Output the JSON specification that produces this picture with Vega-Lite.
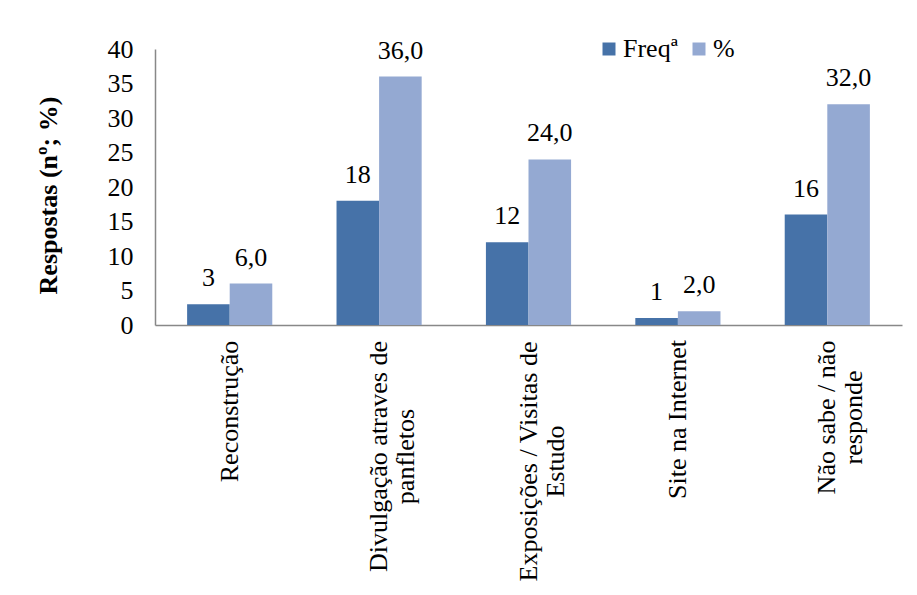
{
  "$schema": "https://vega.github.io/schema/vega-lite/v6.json",
  "width": 747,
  "height": 276,
  "autosize": {"type": "none"},
  "padding": {"left": 155, "top": 49, "right": 15, "bottom": 270},
  "background": "white",
  "config": {"view": {"stroke": null}, "font": "Liberation Serif, Times New Roman, serif"},
  "data": {
    "values": [
      {"cat": "Reconstrução", "series": "Freqª", "value": 3, "label": "3"},
      {"cat": "Reconstrução", "series": "%", "value": 6, "label": "6,0"},
      {"cat": "Divulgação atraves de|panfletos", "series": "Freqª", "value": 18, "label": "18"},
      {"cat": "Divulgação atraves de|panfletos", "series": "%", "value": 36, "label": "36,0"},
      {"cat": "Exposições / Visitas de|Estudo", "series": "Freqª", "value": 12, "label": "12"},
      {"cat": "Exposições / Visitas de|Estudo", "series": "%", "value": 24, "label": "24,0"},
      {"cat": "Site na Internet", "series": "Freqª", "value": 1, "label": "1"},
      {"cat": "Site na Internet", "series": "%", "value": 2, "label": "2,0"},
      {"cat": "Não sabe / não|responde", "series": "Freqª", "value": 16, "label": "16"},
      {"cat": "Não sabe / não|responde", "series": "%", "value": 32, "label": "32,0"}
    ]
  },
  "encoding": {
    "x": {
      "field": "cat",
      "type": "nominal",
      "sort": null,
      "scale": {"paddingInner": 0.43, "paddingOuter": 0.215},
      "axis": {
        "title": null,
        "labelAngle": -90,
        "labelAlign": "center",
        "labelBaseline": "middle",
        "labelFont": "Liberation Serif, Times New Roman, serif",
        "labelFontSize": 26,
        "labelColor": "black",
        "labelPadding": {
          "condition": [
            {"test": "datum.value === 'Reconstrução'", "value": 86},
            {"test": "datum.value === 'Divulgação atraves de|panfletos'", "value": 131},
            {"test": "datum.value === 'Exposições / Visitas de|Estudo'", "value": 136},
            {"test": "datum.value === 'Site na Internet'", "value": 94}
          ],
          "value": 92
        },
        "labelLimit": 0,
        "labelLineHeight": 27,
        "labelExpr": "split(datum.label, '|')",
        "ticks": false,
        "tickSize": 0,
        "domainColor": "#888888",
        "domainWidth": 1.5
      }
    },
    "xOffset": {
      "field": "series",
      "type": "nominal",
      "sort": ["Freqª", "%"],
      "scale": {"domain": ["Freqª", "%"], "paddingInner": 0, "paddingOuter": 0}
    },
    "y": {
      "field": "value",
      "type": "quantitative",
      "scale": {"domain": [0, 40]},
      "axis": {
        "title": "Respostas (nº; %)",
        "titleFont": "Liberation Serif, Times New Roman, serif",
        "titleFontSize": 26,
        "titleFontWeight": "bold",
        "titleColor": "black",
        "titlePadding": 46,
        "titleY": 146,
        "values": [0, 5, 10, 15, 20, 25, 30, 35, 40],
        "grid": false,
        "ticks": false,
        "tickSize": 0,
        "labelPadding": 22,
        "labelFont": "Liberation Serif, Times New Roman, serif",
        "labelFontSize": 26,
        "labelColor": "black",
        "domainColor": "#888888",
        "domainWidth": 1.5
      }
    }
  },
  "layer": [
    {
      "mark": {"type": "bar"},
      "encoding": {
        "color": {
          "field": "series",
          "type": "nominal",
          "scale": {"domain": ["Freqª", "%"], "range": ["#4672A8", "#94A9D2"]},
          "legend": {
            "title": null,
            "orient": "none",
            "legendX": 441,
            "legendY": -13,
            "direction": "horizontal",
            "symbolType": "square",
            "symbolSize": 169,
            "symbolStrokeWidth": 0,
            "labelFont": "Liberation Serif, Times New Roman, serif",
            "labelFontSize": 26,
            "labelColor": "black",
            "labelOffset": 1,
            "columnPadding": 8,
            "padding": 0
          }
        }
      }
    },
    {
      "mark": {
        "type": "text",
        "baseline": "alphabetic",
        "dy": -18,
        "fontSize": 26,
        "font": "Liberation Serif, Times New Roman, serif",
        "color": "black"
      },
      "encoding": {"text": {"field": "label"}}
    }
  ]
}
